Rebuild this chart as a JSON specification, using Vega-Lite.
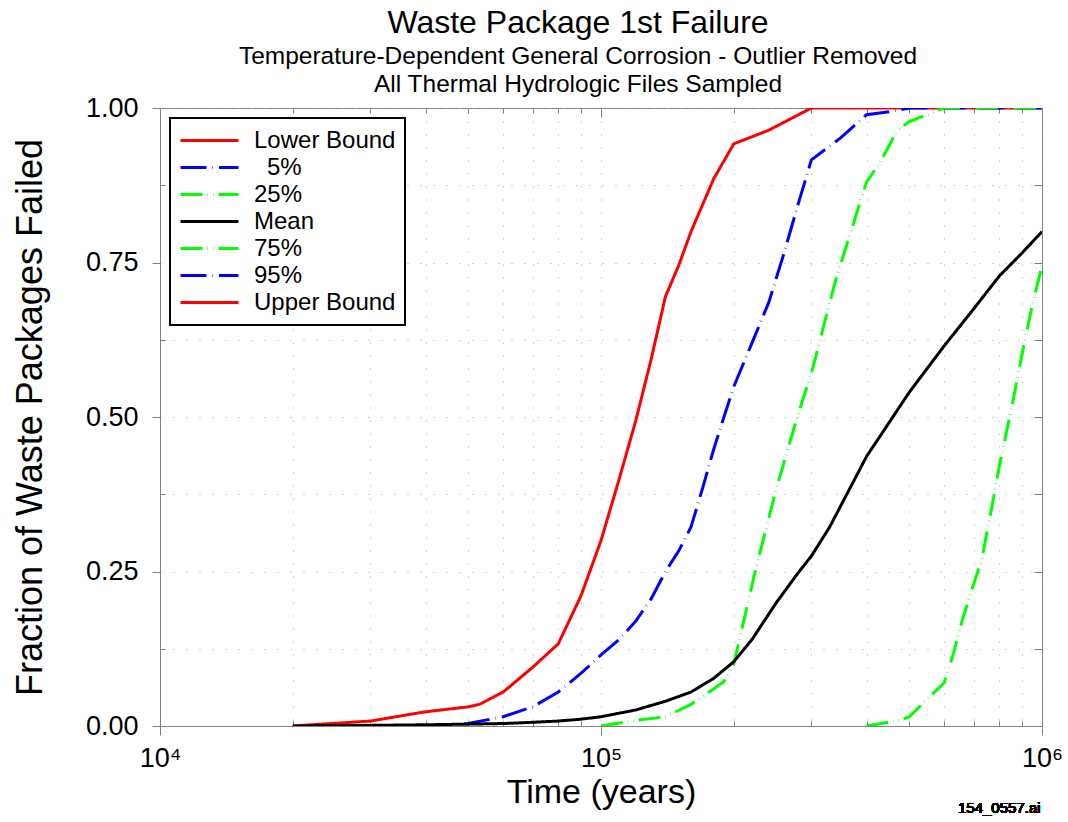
{
  "$schema": "https://vega.github.io/schema/vega-lite/v6.json",
  "width": 882,
  "height": 618,
  "autosize": {"type": "none"},
  "padding": {"left": 160, "top": 108, "right": 26, "bottom": 96},
  "background": "white",
  "title": {
    "text": "Waste Package 1st Failure",
    "subtitle": ["Temperature-Dependent General Corrosion - Outlier Removed", "All Thermal Hydrologic Files Sampled"],
    "anchor": "middle",
    "frame": "group",
    "dx": -23,
    "offset": -3,
    "font": "Liberation Sans",
    "fontSize": 32,
    "fontWeight": "normal",
    "color": "black",
    "subtitleFont": "Liberation Sans",
    "subtitleFontSize": 24.5,
    "subtitleColor": "black",
    "subtitleLineHeight": 28,
    "subtitlePadding": 5
  },
  "config": {
    "view": {"stroke": "#808080", "strokeWidth": 1},
    "axis": {
      "labelFont": "Liberation Sans",
      "titleFont": "Liberation Sans",
      "labelColor": "black",
      "titleColor": "black",
      "titleFontWeight": "normal",
      "domainColor": "#808080",
      "tickColor": "#808080",
      "gridColor": "#a8a8a8",
      "gridDash": [1, 12],
      "gridWidth": 1
    },
    "legend": {
      "orient": "none",
      "legendX": 10,
      "legendY": 10,
      "padding": 9,
      "strokeColor": "black",
      "strokeWidth": 2,
      "fillColor": "white",
      "labelFont": "Liberation Sans",
      "labelFontSize": 24,
      "labelColor": "black",
      "labelLimit": 400,
      "labelOffset": 14,
      "symbolType": "stroke",
      "symbolSize": 3364,
      "symbolStrokeWidth": 3,
      "clipHeight": 27,
      "rowPadding": 0
    }
  },
  "data": {
    "values": [
      {"s": "Lower Bound", "t": 20000, "v": 0},
      {"s": "Lower Bound", "t": 30000, "v": 0.008},
      {"s": "Lower Bound", "t": 40000, "v": 0.023},
      {"s": "Lower Bound", "t": 50000, "v": 0.031},
      {"s": "Lower Bound", "t": 53000, "v": 0.035},
      {"s": "Lower Bound", "t": 60000, "v": 0.055},
      {"s": "Lower Bound", "t": 70000, "v": 0.095},
      {"s": "Lower Bound", "t": 80000, "v": 0.133},
      {"s": "Lower Bound", "t": 90000, "v": 0.21},
      {"s": "Lower Bound", "t": 100000, "v": 0.3},
      {"s": "Lower Bound", "t": 110000, "v": 0.4},
      {"s": "Lower Bound", "t": 120000, "v": 0.495},
      {"s": "Lower Bound", "t": 130000, "v": 0.594},
      {"s": "Lower Bound", "t": 140000, "v": 0.695},
      {"s": "Lower Bound", "t": 150000, "v": 0.745},
      {"s": "Lower Bound", "t": 160000, "v": 0.8},
      {"s": "Lower Bound", "t": 180000, "v": 0.885},
      {"s": "Lower Bound", "t": 200000, "v": 0.942},
      {"s": "Lower Bound", "t": 240000, "v": 0.964},
      {"s": "Lower Bound", "t": 300000, "v": 1.0},
      {"s": "Lower Bound", "t": 1000000, "v": 1.0},
      {"s": "5%", "t": 40000, "v": 0},
      {"s": "5%", "t": 50000, "v": 0.004},
      {"s": "5%", "t": 60000, "v": 0.015},
      {"s": "5%", "t": 70000, "v": 0.031},
      {"s": "5%", "t": 80000, "v": 0.055},
      {"s": "5%", "t": 90000, "v": 0.085},
      {"s": "5%", "t": 100000, "v": 0.115},
      {"s": "5%", "t": 110000, "v": 0.14},
      {"s": "5%", "t": 120000, "v": 0.17},
      {"s": "5%", "t": 130000, "v": 0.206},
      {"s": "5%", "t": 140000, "v": 0.25},
      {"s": "5%", "t": 150000, "v": 0.283},
      {"s": "5%", "t": 160000, "v": 0.322},
      {"s": "5%", "t": 170000, "v": 0.385},
      {"s": "5%", "t": 180000, "v": 0.447},
      {"s": "5%", "t": 190000, "v": 0.5},
      {"s": "5%", "t": 200000, "v": 0.549},
      {"s": "5%", "t": 220000, "v": 0.62},
      {"s": "5%", "t": 240000, "v": 0.685},
      {"s": "5%", "t": 260000, "v": 0.765},
      {"s": "5%", "t": 280000, "v": 0.845},
      {"s": "5%", "t": 300000, "v": 0.916},
      {"s": "5%", "t": 350000, "v": 0.952},
      {"s": "5%", "t": 400000, "v": 0.989},
      {"s": "5%", "t": 450000, "v": 0.994},
      {"s": "5%", "t": 500000, "v": 1.0},
      {"s": "5%", "t": 1000000, "v": 1.0},
      {"s": "25%", "t": 100000, "v": 0},
      {"s": "25%", "t": 120000, "v": 0.009},
      {"s": "25%", "t": 140000, "v": 0.015},
      {"s": "25%", "t": 160000, "v": 0.035},
      {"s": "25%", "t": 180000, "v": 0.06},
      {"s": "25%", "t": 190000, "v": 0.072},
      {"s": "25%", "t": 200000, "v": 0.1},
      {"s": "25%", "t": 225000, "v": 0.258},
      {"s": "25%", "t": 250000, "v": 0.385},
      {"s": "25%", "t": 280000, "v": 0.505},
      {"s": "25%", "t": 300000, "v": 0.571},
      {"s": "25%", "t": 340000, "v": 0.72},
      {"s": "25%", "t": 380000, "v": 0.83},
      {"s": "25%", "t": 400000, "v": 0.88},
      {"s": "25%", "t": 430000, "v": 0.913},
      {"s": "25%", "t": 470000, "v": 0.964},
      {"s": "25%", "t": 500000, "v": 0.978},
      {"s": "25%", "t": 600000, "v": 1.0},
      {"s": "25%", "t": 1000000, "v": 1.0},
      {"s": "Mean", "t": 20000, "v": 0},
      {"s": "Mean", "t": 30000, "v": 0.001},
      {"s": "Mean", "t": 40000, "v": 0.002},
      {"s": "Mean", "t": 50000, "v": 0.003},
      {"s": "Mean", "t": 60000, "v": 0.004},
      {"s": "Mean", "t": 70000, "v": 0.006},
      {"s": "Mean", "t": 80000, "v": 0.008},
      {"s": "Mean", "t": 90000, "v": 0.011},
      {"s": "Mean", "t": 100000, "v": 0.015},
      {"s": "Mean", "t": 120000, "v": 0.026},
      {"s": "Mean", "t": 140000, "v": 0.04},
      {"s": "Mean", "t": 160000, "v": 0.055},
      {"s": "Mean", "t": 180000, "v": 0.077},
      {"s": "Mean", "t": 200000, "v": 0.104},
      {"s": "Mean", "t": 220000, "v": 0.14},
      {"s": "Mean", "t": 250000, "v": 0.2},
      {"s": "Mean", "t": 280000, "v": 0.248},
      {"s": "Mean", "t": 300000, "v": 0.275},
      {"s": "Mean", "t": 330000, "v": 0.322},
      {"s": "Mean", "t": 400000, "v": 0.436},
      {"s": "Mean", "t": 500000, "v": 0.54},
      {"s": "Mean", "t": 600000, "v": 0.615},
      {"s": "Mean", "t": 700000, "v": 0.675},
      {"s": "Mean", "t": 800000, "v": 0.728},
      {"s": "Mean", "t": 900000, "v": 0.765},
      {"s": "Mean", "t": 1000000, "v": 0.8},
      {"s": "75%", "t": 400000, "v": 0},
      {"s": "75%", "t": 480000, "v": 0.01},
      {"s": "75%", "t": 500000, "v": 0.015},
      {"s": "75%", "t": 600000, "v": 0.07},
      {"s": "75%", "t": 630000, "v": 0.118},
      {"s": "75%", "t": 660000, "v": 0.172},
      {"s": "75%", "t": 700000, "v": 0.23},
      {"s": "75%", "t": 730000, "v": 0.269},
      {"s": "75%", "t": 770000, "v": 0.355},
      {"s": "75%", "t": 800000, "v": 0.42},
      {"s": "75%", "t": 860000, "v": 0.527},
      {"s": "75%", "t": 900000, "v": 0.6},
      {"s": "75%", "t": 950000, "v": 0.68},
      {"s": "75%", "t": 1000000, "v": 0.745}
    ]
  },
  "resolve": {"axis": {"x": "independent", "y": "independent"}},
  "layer": [
    {
      "mark": {"type": "line", "strokeWidth": 3, "clip": true},
      "encoding": {
        "x": {
          "field": "t", "type": "quantitative",
          "scale": {"type": "log", "domain": [10000, 1000000]},
          "axis": {
            "title": "Time (years)",
            "titleFontSize": 34,
            "titlePadding": 4,
            "labelFontSize": 27,
            "labelPadding": 10,
            "values": [10000, 20000, 30000, 40000, 50000, 60000, 70000, 80000, 90000, 100000, 200000, 300000, 400000, 500000, 600000, 700000, 800000, 900000, 1000000],
            "labelExpr": "datum.value == 10000 ? '10⁴' : datum.value == 100000 ? '10⁵' : datum.value == 1000000 ? '10⁶' : ''",
            "tickSize": {"condition": {"test": "datum.value == 10000 || datum.value == 100000 || datum.value == 1000000", "value": 9}, "value": -5},
            "grid": true,
            "labelFlush": false,
            "labelOverlap": false
          }
        },
        "y": {
          "field": "v", "type": "quantitative",
          "scale": {"domain": [0, 1]},
          "axis": {
            "title": "Fraction of Waste Packages Failed",
            "titleFontSize": 36,
            "titlePadding": 36,
            "labelFontSize": 27,
            "labelPadding": 14,
            "values": [0, 0.125, 0.25, 0.375, 0.5, 0.625, 0.75, 0.875, 1],
            "labelExpr": "datum.value * 4 == round(datum.value * 4) ? format(datum.value, '.2f') : ''",
            "tickSize": {"condition": {"test": "datum.value * 4 == round(datum.value * 4)", "value": 8}, "value": -5},
            "grid": true,
            "labelFlush": false,
            "labelOverlap": false
          }
        },
        "color": {
          "field": "s", "type": "nominal",
          "scale": {
            "domain": ["Lower Bound", "5%", "25%", "Mean", "75%", "95%", "Upper Bound"],
            "range": ["#ff0000", "#0000ff", "#00ff00", "#000000", "#00ff00", "#0000ff", "#ff0000"]
          },
          "legend": {"title": null, "encode": {"labels": {"update": {"dx": {"signal": "datum.value == '5%' ? 13 : 0"}}}}}
        },
        "strokeDash": {
          "field": "s", "type": "nominal",
          "scale": {
            "domain": ["Lower Bound", "5%", "25%", "Mean", "75%", "95%", "Upper Bound"],
            "range": [[1, 0], [26, 6, 0.5, 6], [22, 5, 0.5, 5, 0.5, 5], [1, 0], [22, 5, 0.5, 5, 0.5, 5], [26, 6, 0.5, 6], [1, 0]]
          },
          "legend": {"title": null, "encode": {"labels": {"update": {"dx": {"signal": "datum.value == '5%' ? 13 : 0"}}}}}
        }
      }
    },
    {
      "mark": {"type": "line", "opacity": 0},
      "encoding": {
        "x": {
          "field": "t", "type": "quantitative",
          "axis": {
            "orient": "top", "title": null, "labels": false, "grid": false, "domain": false,
            "values": [10000, 20000, 30000, 40000, 50000, 60000, 70000, 80000, 90000, 100000, 200000, 300000, 400000, 500000, 600000, 700000, 800000, 900000, 1000000],
            "tickSize": {"condition": {"test": "datum.value == 10000 || datum.value == 100000 || datum.value == 1000000", "value": -9}, "value": -5}
          }
        },
        "y": {
          "field": "v", "type": "quantitative",
          "axis": {
            "orient": "right", "title": null, "labels": false, "grid": false, "domain": false,
            "values": [0, 0.125, 0.25, 0.375, 0.5, 0.625, 0.75, 0.875, 1],
            "tickSize": -8
          }
        },
        "detail": {"field": "s", "type": "nominal"}
      }
    },
    {
      "mark": {"type": "text", "font": "Liberation Sans", "fontSize": 15, "align": "center", "baseline": "middle", "fill": "black", "strokeWidth": 0},
      "encoding": {
        "x": {"datum": 800000, "type": "quantitative", "axis": null},
        "y": {"datum": -0.132, "type": "quantitative", "axis": null},
        "text": {"value": "154_0557.ai"}
      }
    }
  ]
}
